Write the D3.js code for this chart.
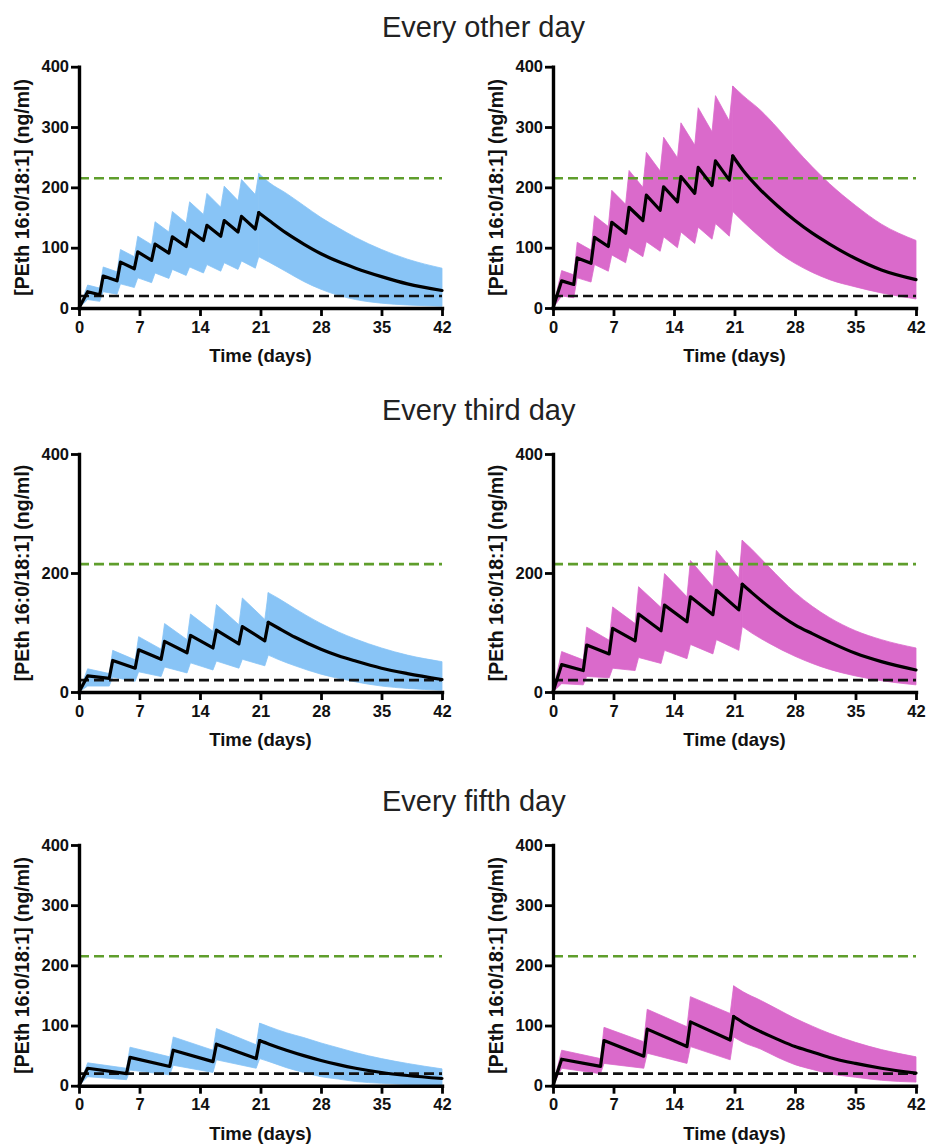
<!DOCTYPE html>
<html><head><meta charset="utf-8">
<script src="https://cdn.jsdelivr.net/npm/d3@7"></script>
<style>
body{margin:0;background:#fff}
svg{display:block}
text{font-family:"Liberation Sans",Arial,Helvetica,sans-serif}
</style>
</head><body>
<svg id="chart" width="926" height="1144"></svg>
<script>
// ---------------- DATA ----------------
const rowTitles = ["Every other day", "Every third day", "Every fifth day"];
const xTicks = [0, 7, 14, 21, 28, 35, 42];
const yTicksFull = [0, 100, 200, 300, 400];
const yTicksSparse = [0, 200, 400];
const upperRef = 215;   // green dashed line
const lowerRef = 20;    // black dashed line
const xLabel = "Time (days)";
const yLabel = "[PEth 16:0/18:1] (ng/ml)";

// dosing schedules (day the rise starts, day of the peak), tail days
const eodStart = [0, 2.4, 4.4, 6.4, 8.4, 10.4, 12.4, 14.4, 16.4, 18.4, 20.4];
const eodPeak  = [1.0, 2.8, 4.8, 6.8, 8.8, 10.8, 12.8, 14.8, 16.8, 18.8, 20.8];
const eodTail  = [22, 24, 26, 28, 30, 32, 35, 38, 42];

const tdStart = [0, 3.5, 6.5, 9.5, 12.5, 15.5, 18.5, 21.5];
const tdPeak  = [1.0, 3.9, 6.9, 9.9, 12.9, 15.9, 18.9, 21.9];
const tdTail  = [23, 25, 28, 30, 32, 35, 38, 42];

const fdStart = [0, 5.5, 10.5, 15.5, 20.5];
const fdPeak  = [1.0, 5.9, 10.9, 15.9, 20.9];
const fdTail  = [22, 24, 26, 28, 30, 32, 35, 38, 42];

// Every other day - blue
const eodBlueMedTrough = [0, 22, 45, 65, 79, 91, 102, 112, 119, 126, 131];
const eodBlueMedPeak   = [27, 53, 76, 93, 106, 118, 129, 137, 145, 152, 158];
const eodBlueMedTail   = [145, 124, 106, 90, 77, 66, 52, 40, 29];
const eodBlueHiTrough  = [0, 33, 60, 85, 105, 126, 141, 155, 167, 178, 188];
const eodBlueHiPeak    = [38, 68, 97, 119, 143, 160, 176, 190, 202, 213, 223];
const eodBlueHiTail    = [208, 190, 170, 150, 133, 117, 97, 81, 66];
const eodBlueLoTrough  = [0, 11, 23, 34, 42, 49, 54, 58, 61, 64, 66];
const eodBlueLoPeak    = [14, 27, 40, 50, 58, 64, 68, 72, 75, 78, 85];
const eodBlueLoTail    = [76, 60, 44, 31, 21, 14, 8, 5, 3];

// Every other day - magenta
const eodPinkMedTrough = [0, 39, 74, 102, 124, 145, 162, 176, 190, 203, 212];
const eodPinkMedPeak   = [45, 83, 117, 142, 167, 187, 201, 218, 233, 244, 252];
const eodPinkMedTail   = [228, 196, 169, 145, 124, 106, 82, 63, 47];
const eodPinkHiTrough  = [0, 55, 96, 135, 172, 200, 227, 249, 270, 292, 310];
const eodPinkHiPeak    = [62, 109, 153, 195, 228, 258, 283, 307, 332, 352, 368];
const eodPinkHiTail    = [352, 328, 298, 265, 234, 206, 170, 139, 112];
const eodPinkLoTrough  = [0, 17, 43, 61, 75, 85, 94, 100, 107, 114, 119];
const eodPinkLoPeak    = [20, 50, 72, 88, 100, 110, 118, 126, 134, 140, 160];
const eodPinkLoTail    = [143, 117, 93, 74, 59, 47, 35, 25, 15];

// Every third day - blue
const tdBlueMedTrough = [0, 23, 40, 55, 66, 74, 81, 86];
const tdBlueMedPeak   = [27, 53, 71, 85, 95, 104, 110, 117];
const tdBlueMedTail   = [108, 92, 72, 61, 52, 40, 31, 21];
const tdBlueHiTrough  = [0, 31, 54, 72, 88, 102, 113, 122];
const tdBlueHiPeak    = [39, 70, 93, 115, 131, 147, 158, 167];
const tdBlueHiTail    = [158, 140, 115, 101, 89, 74, 62, 51];
const tdBlueLoTrough  = [0, 10, 18, 26, 32, 37, 40, 44];
const tdBlueLoPeak    = [10, 25, 34, 42, 49, 52, 55, 62];
const tdBlueLoTail    = [55, 44, 30, 23, 17, 10, 6, 3];

// Every third day - magenta
const tdPinkMedTrough = [0, 36, 64, 86, 103, 118, 130, 138];
const tdPinkMedPeak   = [46, 79, 107, 131, 146, 160, 171, 181];
const tdPinkMedTail   = [167, 143, 113, 98, 84, 65, 51, 37];
const tdPinkHiTrough  = [0, 54, 87, 115, 142, 160, 177, 191];
const tdPinkHiPeak    = [68, 109, 143, 177, 199, 221, 238, 255];
const tdPinkHiTail    = [240, 210, 167, 144, 125, 103, 88, 74];
const tdPinkLoTrough  = [0, 12, 24, 36, 48, 56, 64, 70];
const tdPinkLoPeak    = [14, 26, 40, 58, 70, 80, 88, 110];
const tdPinkLoTail    = [99, 82, 60, 48, 38, 27, 19, 12];

// Every fifth day - blue
const fdBlueMedTrough = [0, 20, 32, 40, 45];
const fdBlueMedPeak   = [29, 47, 59, 69, 75];
const fdBlueMedTail   = [69, 59, 50, 42, 35, 29, 22, 17, 12];
const fdBlueHiTrough  = [0, 29, 48, 59, 68];
const fdBlueHiPeak    = [38, 64, 81, 95, 104];
const fdBlueHiTail    = [98, 88, 80, 71, 63, 55, 45, 37, 28];
const fdBlueLoTrough  = [0, 10, 18, 22, 29];
const fdBlueLoPeak    = [15, 26, 34, 43, 45];
const fdBlueLoTail    = [40, 30, 22, 15, 11, 7, 4, 2, 1];

// Every fifth day - magenta
const fdPinkMedTrough = [0, 32, 49, 65, 76];
const fdPinkMedPeak   = [44, 75, 94, 106, 115];
const fdPinkMedTail   = [105, 90, 77, 65, 56, 47, 37, 29, 21];
const fdPinkHiTrough  = [0, 45, 73, 98, 120];
const fdPinkHiPeak    = [59, 97, 127, 148, 166];
const fdPinkHiTail    = [156, 142, 127, 112, 99, 87, 72, 60, 48];
const fdPinkLoTrough  = [0, 20, 29, 37, 43];
const fdPinkLoPeak    = [29, 37, 54, 65, 81];
const fdPinkLoTail    = [72, 61, 47, 35, 27, 20, 14, 9, 6];

// ---------------- BUILD ----------------
function build(start, peak, tail, mT, mP, mTl, hT, hP, hTl, lT, lP, lTl) {
  const dosing = [];
  start.forEach((s, i) => {
    dosing.push({d: s, m: mT[i], u: hT[i], l: lT[i]});
    dosing.push({d: peak[i], m: mP[i], u: hP[i], l: lP[i]});
  });
  const last = dosing[dosing.length - 1];
  const after = [last];
  tail.forEach((t, j) => after.push({d: t, m: mTl[j], u: hTl[j], l: lTl[j]}));
  return {dosing, after};
}

const BLUE = "#88c4f6", PINK = "#da6acb";
const colX = [[79, 442], [553, 916]];
const rowY = [[308, 66.7], [692, 454], [1085.7, 845]];
const titleY = [37, 420, 811];

const panels = [
  {r: 0, c: 0, color: BLUE, ticks: yTicksFull, data: build(eodStart, eodPeak, eodTail, eodBlueMedTrough, eodBlueMedPeak, eodBlueMedTail, eodBlueHiTrough, eodBlueHiPeak, eodBlueHiTail, eodBlueLoTrough, eodBlueLoPeak, eodBlueLoTail)},
  {r: 0, c: 1, color: PINK, ticks: yTicksFull, data: build(eodStart, eodPeak, eodTail, eodPinkMedTrough, eodPinkMedPeak, eodPinkMedTail, eodPinkHiTrough, eodPinkHiPeak, eodPinkHiTail, eodPinkLoTrough, eodPinkLoPeak, eodPinkLoTail)},
  {r: 1, c: 0, color: BLUE, ticks: yTicksSparse, data: build(tdStart, tdPeak, tdTail, tdBlueMedTrough, tdBlueMedPeak, tdBlueMedTail, tdBlueHiTrough, tdBlueHiPeak, tdBlueHiTail, tdBlueLoTrough, tdBlueLoPeak, tdBlueLoTail)},
  {r: 1, c: 1, color: PINK, ticks: yTicksSparse, data: build(tdStart, tdPeak, tdTail, tdPinkMedTrough, tdPinkMedPeak, tdPinkMedTail, tdPinkHiTrough, tdPinkHiPeak, tdPinkHiTail, tdPinkLoTrough, tdPinkLoPeak, tdPinkLoTail)},
  {r: 2, c: 0, color: BLUE, ticks: yTicksFull, data: build(fdStart, fdPeak, fdTail, fdBlueMedTrough, fdBlueMedPeak, fdBlueMedTail, fdBlueHiTrough, fdBlueHiPeak, fdBlueHiTail, fdBlueLoTrough, fdBlueLoPeak, fdBlueLoTail)},
  {r: 2, c: 1, color: PINK, ticks: yTicksFull, data: build(fdStart, fdPeak, fdTail, fdPinkMedTrough, fdPinkMedPeak, fdPinkMedTail, fdPinkHiTrough, fdPinkHiPeak, fdPinkHiTail, fdPinkLoTrough, fdPinkLoPeak, fdPinkLoTail)}
];

const svg = d3.select("#chart");

rowTitles.forEach((t, i) => {
  svg.append("text").attr("x", 382).attr("y", titleY[i])
    .attr("font-size", 29).attr("fill", "#222").text(t);
});

panels.forEach(p => {
  const x = d3.scaleLinear().domain([0, 42]).range(colX[p.c]);
  const y = d3.scaleLinear().domain([0, 400]).range(rowY[p.r]);
  const g = svg.append("g");

  [[p.data.dosing, d3.curveLinear], [p.data.after, d3.curveMonotoneX]].forEach(([arr, curve]) => {
    g.append("path").datum(arr)
      .attr("fill", p.color).attr("stroke", p.color).attr("stroke-width", 0.8)
      .attr("stroke-linejoin", "round")
      .attr("d", d3.area().curve(curve).x(d => x(d.d)).y0(d => y(d.l)).y1(d => y(d.u)));
  });

  [[upperRef, "#5f9e2c"], [lowerRef, "#111"]].forEach(([v, col]) => {
    g.append("line").attr("x1", x(0)).attr("x2", x(42))
      .attr("y1", y(v)).attr("y2", y(v))
      .attr("stroke", col).attr("stroke-width", 2.6).attr("stroke-dasharray", "10,5");
  });

  [[p.data.dosing, d3.curveLinear], [p.data.after, d3.curveMonotoneX]].forEach(([arr, curve]) => {
    g.append("path").datum(arr)
      .attr("fill", "none").attr("stroke", "#000").attr("stroke-width", 3.2)
      .attr("stroke-linejoin", "round").attr("stroke-linecap", "round")
      .attr("d", d3.line().curve(curve).x(d => x(d.d)).y(d => y(d.m)));
  });

  const xa = g.append("g").attr("transform", `translate(0,${y(0)})`)
    .call(d3.axisBottom(x).tickValues(xTicks).tickSize(8).tickSizeOuter(0).tickPadding(5));
  const ya = g.append("g").attr("transform", `translate(${x(0)},0)`)
    .call(d3.axisLeft(y).tickValues(p.ticks).tickSize(8).tickSizeOuter(0).tickPadding(2));
  [xa, ya].forEach(a => {
    a.select(".domain").attr("stroke", "#000").attr("stroke-width", 3.4).attr("stroke-linecap", "square");
    a.selectAll(".tick line").attr("stroke", "#000").attr("stroke-width", 2.8);
    a.selectAll(".tick text").attr("fill", "#111").attr("font-size", 16.5).attr("font-weight", "bold")
      .attr("font-family", "'Liberation Sans', Arial, sans-serif");
  });

  g.append("text").attr("x", (colX[p.c][0] + colX[p.c][1]) / 2).attr("y", y(0) + 54)
    .attr("text-anchor", "middle").attr("font-size", 18.5).attr("font-weight", "bold")
    .attr("fill", "#111").text(xLabel);

  g.append("text")
    .attr("transform", `translate(${x(0) - 50},${(rowY[p.r][0] + rowY[p.r][1]) / 2}) rotate(-90)`)
    .attr("text-anchor", "middle").attr("font-size", 19.5).attr("font-weight", "bold")
    .attr("fill", "#111").text(yLabel);
});
</script>
</body></html>
